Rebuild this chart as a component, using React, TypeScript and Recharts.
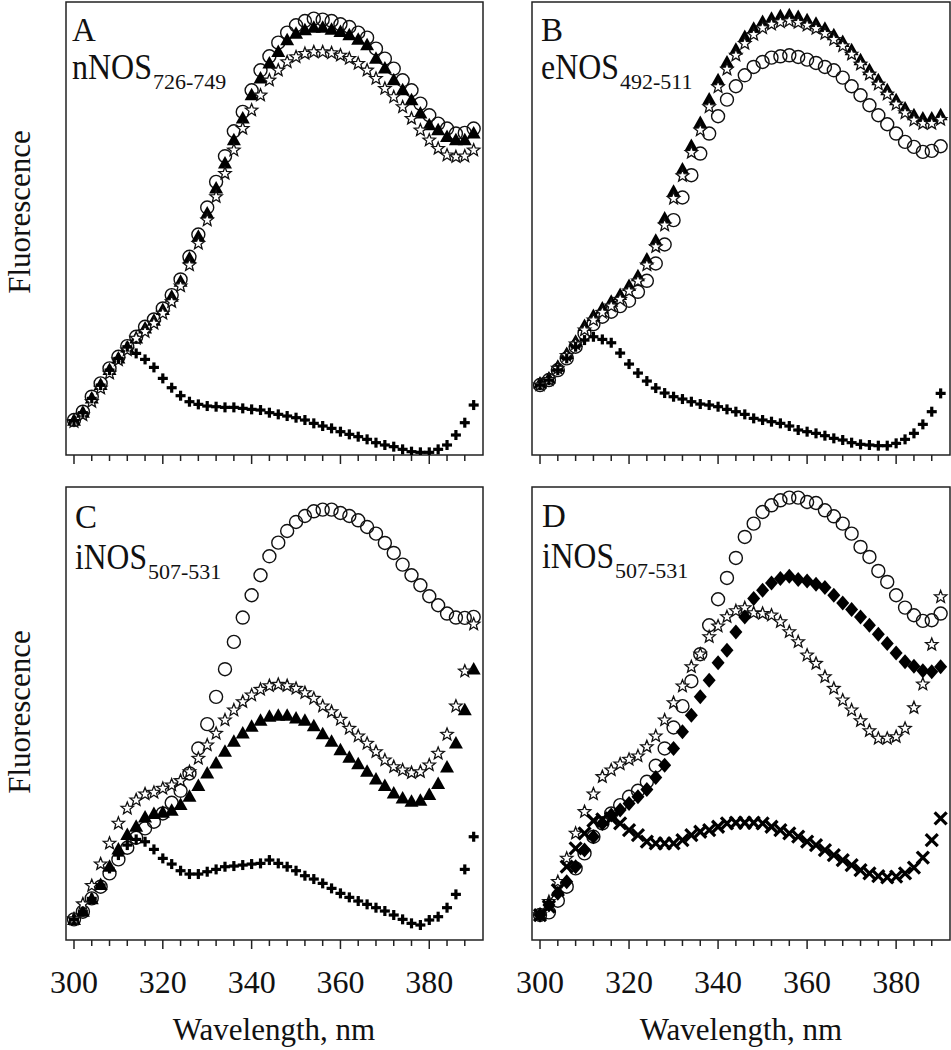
import React from "react";
import { ScatterChart, Scatter, XAxis, YAxis, ReferenceArea } from "recharts";

const FONT = "'Liberation Serif', 'Times New Roman', serif";
const X_MIN = 298.2;
const X_MAX = 392.1;
const Y_MAX = 1360;

// emission wavelengths, nm
const wavelengths = [
  300, 302, 304, 306, 308, 310, 312, 314, 316, 318, 320, 322, 324, 326, 328, 330,
  332, 334, 336, 338, 340, 342, 344, 346, 348, 350, 352, 354, 356, 358, 360, 362,
  364, 366, 368, 370, 372, 374, 376, 378, 380, 382, 384, 386, 388, 390,
];
const xTicks = [
  300, 304, 308, 312, 316, 320, 324, 328, 332, 336, 340, 344, 348, 352, 356, 360,
  364, 368, 372, 376, 380, 384, 388,
];

// panel A - nNOS 726-749 (fluorescence, a.u.)
const aCircle = [105, 130, 175, 215, 260, 295, 327, 355, 385, 407, 440, 480, 527, 595, 662, 743, 820, 897, 972, 1030, 1095, 1155, 1197, 1238, 1268, 1290, 1303, 1310, 1307, 1303, 1293, 1285, 1268, 1253, 1220, 1190, 1160, 1125, 1095, 1055, 1020, 995, 980, 965, 967, 980];
const aTriangle = [103, 127, 170, 210, 255, 290, 323, 350, 380, 403, 435, 475, 520, 590, 655, 725, 800, 875, 945, 1010, 1080, 1130, 1175, 1210, 1245, 1265, 1275, 1283, 1283, 1277, 1270, 1260, 1247, 1230, 1190, 1160, 1125, 1095, 1065, 1025, 990, 975, 955, 945, 945, 965];
const aStar = [100, 120, 160, 200, 245, 285, 315, 350, 370, 395, 425, 460, 507, 570, 635, 705, 775, 845, 915, 980, 1035, 1080, 1125, 1155, 1180, 1195, 1205, 1210, 1210, 1207, 1200, 1190, 1175, 1155, 1130, 1100, 1075, 1045, 1010, 975, 945, 920, 900, 895, 897, 915];
const aPlus = [103, 127, 170, 210, 255, 290, 325, 305, 287, 263, 230, 202, 178, 160, 152, 147, 145, 143, 143, 140, 137, 135, 127, 122, 117, 112, 105, 95, 87, 80, 70, 62, 55, 47, 37, 30, 25, 17, 10, 8, 8, 17, 30, 60, 97, 150];

// panel B - eNOS 492-511
const bCircle = [210, 225, 255, 290, 325, 365, 393, 415, 430, 447, 463, 490, 523, 575, 632, 705, 773, 840, 905, 965, 1017, 1067, 1107, 1140, 1165, 1180, 1193, 1197, 1200, 1195, 1187, 1177, 1165, 1155, 1133, 1107, 1080, 1050, 1020, 993, 965, 940, 925, 910, 913, 927];
const bTriangle = [215, 230, 265, 303, 340, 387, 417, 440, 460, 480, 507, 537, 587, 643, 710, 790, 857, 928, 997, 1067, 1125, 1178, 1217, 1255, 1280, 1300, 1310, 1317, 1320, 1315, 1305, 1295, 1280, 1260, 1240, 1215, 1185, 1155, 1125, 1095, 1065, 1040, 1020, 1010, 1010, 1020];
const bStar = [210, 226, 260, 298, 333, 375, 405, 428, 447, 467, 492, 522, 570, 625, 690, 770, 838, 908, 975, 1045, 1105, 1158, 1200, 1235, 1262, 1282, 1293, 1300, 1303, 1298, 1290, 1280, 1265, 1247, 1228, 1203, 1173, 1143, 1113, 1083, 1053, 1027, 1005, 995, 995, 1007];
const bPlus = [210, 225, 255, 290, 325, 345, 355, 347, 337, 306, 273, 246, 222, 201, 186, 175, 168, 160, 153, 150, 145, 137, 130, 122, 110, 105, 100, 95, 87, 75, 70, 65, 58, 50, 45, 37, 32, 30, 28, 28, 35, 47, 65, 92, 130, 185];

// panel C - iNOS 507-531
const cCircle = [62, 85, 125, 160, 200, 242, 277, 307, 335, 355, 380, 412, 448, 500, 575, 648, 730, 813, 895, 968, 1035, 1095, 1152, 1193, 1228, 1255, 1273, 1287, 1292, 1292, 1282, 1273, 1260, 1240, 1220, 1192, 1162, 1127, 1095, 1065, 1032, 1005, 980, 968, 967, 970];
const cTriangle = [60, 85, 122, 165, 220, 272, 315, 340, 368, 378, 382, 388, 405, 430, 462, 500, 530, 565, 595, 620, 640, 658, 670, 673, 673, 665, 658, 642, 618, 595, 570, 547, 528, 505, 482, 462, 440, 425, 415, 418, 435, 468, 518, 590, 690, 812];
const cStar = [63, 108, 163, 228, 290, 350, 395, 420, 438, 443, 455, 465, 478, 505, 545, 585, 620, 660, 690, 715, 735, 752, 763, 767, 763, 755, 742, 725, 702, 685, 662, 635, 612, 590, 565, 540, 520, 510, 502, 505, 525, 560, 617, 702, 807, 948];
const cPlus = [62, 85, 125, 165, 215, 255, 285, 302, 295, 272, 245, 228, 208, 198, 198, 205, 212, 220, 222, 225, 228, 230, 240, 230, 220, 208, 193, 183, 170, 155, 140, 128, 117, 107, 97, 87, 75, 62, 50, 45, 60, 70, 97, 137, 212, 310];

// panel D - iNOS 507-531
const dCircle = [75, 83, 118, 160, 215, 260, 310, 350, 380, 405, 430, 448, 475, 523, 575, 638, 702, 777, 858, 945, 1023, 1087, 1147, 1210, 1250, 1285, 1305, 1320, 1328, 1328, 1315, 1312, 1290, 1272, 1250, 1220, 1180, 1150, 1108, 1075, 1035, 998, 975, 958, 960, 980];
const dStar = [75, 115, 175, 245, 320, 385, 438, 490, 510, 528, 542, 552, 580, 612, 660, 712, 762, 820, 858, 910, 942, 970, 988, 997, 982, 980, 975, 955, 925, 895, 855, 830, 790, 755, 720, 690, 658, 628, 605, 605, 610, 635, 697, 768, 887, 1030];
const dDiamond = [75, 105, 140, 175, 220, 270, 310, 350, 375, 390, 410, 430, 452, 488, 525, 575, 625, 675, 730, 780, 832, 870, 925, 970, 1025, 1050, 1072, 1085, 1092, 1082, 1078, 1068, 1058, 1035, 1012, 992, 970, 945, 918, 890, 862, 835, 822, 808, 805, 820];
const dCross = [75, 100, 150, 220, 275, 320, 358, 362, 365, 350, 330, 315, 295, 290, 290, 290, 300, 315, 325, 330, 340, 350, 352, 352, 352, 350, 340, 330, 320, 310, 295, 285, 270, 255, 240, 225, 210, 200, 192, 188, 190, 200, 217, 247, 300, 365];

const toPoints = (vals: number[]) => wavelengths.map((x, i) => ({ x, y: vals[i] }));

// marker shapes
const OpenCircle = (p: any) => (
  <circle cx={p.cx} cy={p.cy} r={6.5} fill="none" stroke="#111" strokeWidth={1.4} />
);
const Triangle = (p: any) => (
  <polygon
    points={`${p.cx},${p.cy - 7.5} ${p.cx + 7},${p.cy + 5} ${p.cx - 7},${p.cy + 5}`}
    fill="#000"
  />
);
const Star = (p: any) => {
  const pts: string[] = [];
  for (let i = 0; i < 10; i++) {
    const r = i % 2 === 0 ? 6.5 : 2.8;
    const a = -Math.PI / 2 + (i * Math.PI) / 5;
    pts.push(`${p.cx + r * Math.cos(a)},${p.cy + r * Math.sin(a)}`);
  }
  return <polygon points={pts.join(" ")} fill="#fff" stroke="#111" strokeWidth={1.3} />;
};
const Plus = (p: any) => (
  <g fill="#000">
    <rect x={p.cx - 5} y={p.cy - 1.6} width={10} height={3.2} />
    <rect x={p.cx - 1.6} y={p.cy - 5} width={3.2} height={10} />
  </g>
);
const Diamond = (p: any) => (
  <polygon
    points={`${p.cx},${p.cy - 7.5} ${p.cx + 6.5},${p.cy} ${p.cx},${p.cy + 7.5} ${p.cx - 6.5},${p.cy}`}
    fill="#000"
  />
);
const Cross = (p: any) => (
  <g stroke="#000" strokeWidth={3.2}>
    <line x1={p.cx - 6} y1={p.cy - 6} x2={p.cx + 6} y2={p.cy + 6} />
    <line x1={p.cx - 6} y1={p.cy + 6} x2={p.cx + 6} y2={p.cy - 6} />
  </g>
);

const XTick = (p: any) => {
  const major = p.payload.value % 20 === 0;
  return (
    <g>
      <line x1={p.x} x2={p.x} y1={p.y} y2={p.y + (major ? 9 : 6)} stroke="#222" strokeWidth={1.5} />
      {p.showLabel && major && (
        <text x={p.x} y={p.y + 53} textAnchor="middle" fontSize={32} fontFamily={FONT} fill="#111">
          {p.payload.value}
        </text>
      )}
    </g>
  );
};

type Series = { values: number[]; shape: any };

function Panel(props: {
  left: number;
  top: number;
  width: number;
  height: number;
  margin: { top: number; right: number; left: number; bottom: number };
  axisHeight: number;
  showLabels: boolean;
  series: Series[];
}) {
  const { left, top, width, height, margin, axisHeight, showLabels, series } = props;
  return (
    <div style={{ position: "absolute", left, top }}>
      <ScatterChart width={width} height={height} margin={margin}>
        <XAxis
          type="number"
          dataKey="x"
          domain={[X_MIN, X_MAX]}
          ticks={xTicks}
          interval={0}
          axisLine={false}
          tickLine={false}
          tickSize={0}
          tickMargin={0}
          height={axisHeight}
          allowDataOverflow
          tick={(p: any) => <XTick {...p} showLabel={showLabels} />}
        />
        <YAxis type="number" dataKey="y" domain={[0, Y_MAX]} hide allowDataOverflow />
        <ReferenceArea
          x1={X_MIN}
          x2={X_MAX}
          y1={0}
          y2={Y_MAX}
          fill="none"
          fillOpacity={0}
          stroke="#222"
          strokeWidth={1.5}
          ifOverflow="visible"
        />
        {series.map((s, i) => (
          <Scatter key={i} data={toPoints(s.values)} shape={s.shape} isAnimationActive={false} />
        ))}
      </ScatterChart>
    </div>
  );
}

// panel letter, protein name and residue range
function PanelTitle(props: { x: number; y: number; letter: string; name: string; nameWidth: number; range: string; gap: number }) {
  const { x, y, letter, name, nameWidth, range, gap } = props;
  return (
    <g fontFamily={FONT} fill="#111">
      <text x={x} y={y} fontSize={33}>{letter}</text>
      <text x={x} y={y + gap} fontSize={35} textLength={nameWidth} lengthAdjust="spacingAndGlyphs">{name}</text>
      <text x={x + nameWidth + 1} y={y + gap + 10} fontSize={22}>{range}</text>
    </g>
  );
}

const topMargin = { top: 2, right: 17, left: 66, bottom: 0 };
const topMarginR = { top: 2, right: 1, left: 32, bottom: 0 };
const botMargin = { top: 17, right: 17, left: 66, bottom: 0 };
const botMarginR = { top: 17, right: 1, left: 32, bottom: 0 };

const txt = { fontFamily: FONT, fill: "#111" };

export default function App() {
  return (
    <div style={{ position: "absolute", left: 0, top: 0, width: 951, height: 1050, background: "#fff" }}>
      <Panel left={0} top={0} width={500} height={470} margin={topMargin} axisHeight={15} showLabels={false}
        series={[
          { values: aCircle, shape: OpenCircle },
          { values: aTriangle, shape: Triangle },
          { values: aStar, shape: Star },
          { values: aPlus, shape: Plus },
        ]} />
      <Panel left={500} top={0} width={451} height={470} margin={topMarginR} axisHeight={15} showLabels={false}
        series={[
          { values: bCircle, shape: OpenCircle },
          { values: bTriangle, shape: Triangle },
          { values: bStar, shape: Star },
          { values: bPlus, shape: Plus },
        ]} />
      <Panel left={0} top={470} width={500} height={580} margin={botMargin} axisHeight={110} showLabels
        series={[
          { values: cCircle, shape: OpenCircle },
          { values: cTriangle, shape: Triangle },
          { values: cStar, shape: Star },
          { values: cPlus, shape: Plus },
        ]} />
      <Panel left={500} top={470} width={451} height={580} margin={botMarginR} axisHeight={110} showLabels
        series={[
          { values: dCircle, shape: OpenCircle },
          { values: dStar, shape: Star },
          { values: dDiamond, shape: Diamond },
          { values: dCross, shape: Cross },
        ]} />
      <svg width={951} height={1050} style={{ position: "absolute", left: 0, top: 0, pointerEvents: "none" }}>
        <text x={30} y={212} transform="rotate(-90 30 212)" textAnchor="middle" fontSize={31} {...txt}>Fluorescence</text>
        <text x={30} y={712} transform="rotate(-90 30 712)" textAnchor="middle" fontSize={31} {...txt}>Fluorescence</text>
        <text x={274} y={1040} textAnchor="middle" fontSize={31} {...txt}>Wavelength, nm</text>
        <text x={741} y={1040} textAnchor="middle" fontSize={31} {...txt}>Wavelength, nm</text>

        <PanelTitle x={72} y={41} letter="A" name="nNOS" nameWidth={80} range="726-749" gap={38} />
        <PanelTitle x={541} y={41} letter="B" name="eNOS" nameWidth={78} range="492-511" gap={38} />
        <PanelTitle x={75} y={528} letter="C" name="iNOS" nameWidth={72} range="507-531" gap={41} />
        <PanelTitle x={542} y={527} letter="D" name="iNOS" nameWidth={72} range="507-531" gap={41} />
      </svg>
    </div>
  );
}
